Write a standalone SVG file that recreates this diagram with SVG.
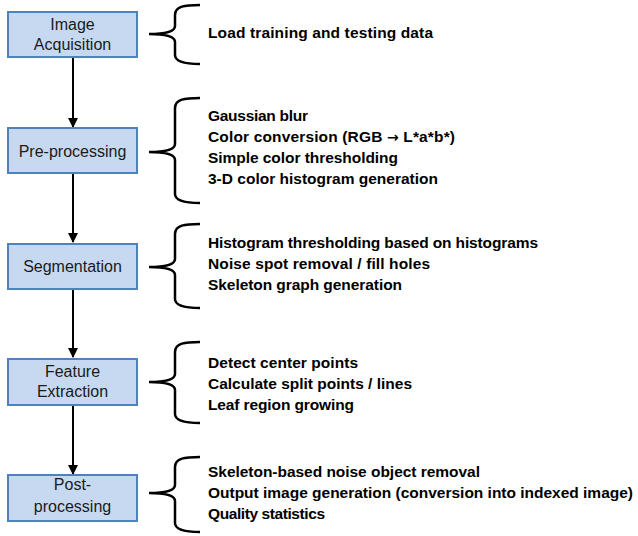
<svg xmlns="http://www.w3.org/2000/svg" width="638" height="536" viewBox="0 0 638 536">
<style>
.box{fill:#c6d9f1;stroke:#4f81bd;stroke-width:2}
.bl{font-family:"Liberation Sans",Arial,sans-serif;font-size:16px;fill:#1a1a1a;text-anchor:middle}
.t{font-family:"Liberation Sans",Arial,sans-serif;font-size:15.5px;font-weight:bold;fill:#000}
.br{fill:none;stroke:#000;stroke-width:2.5}
.ar{stroke:#000;stroke-width:2;fill:none;marker-end:url(#ah)}
</style>
<defs>
<marker id="ah" markerWidth="10" markerHeight="10" refX="9" refY="5" orient="auto" markerUnits="userSpaceOnUse">
<path d="M0,0 L10,5 L0,10 Z" fill="#000"/>
</marker>
</defs>
<rect width="638" height="536" fill="#fff"/>
<g id="connectors">
<line class="ar" x1="73" y1="57" x2="73" y2="127"/>
<line class="ar" x1="73" y1="173" x2="73" y2="242"/>
<line class="ar" x1="73" y1="289" x2="73" y2="357"/>
<line class="ar" x1="73" y1="405" x2="73" y2="474"/>
</g>
<g id="n1">
<rect class="box" x="8" y="12" width="129" height="45"/>
<text class="bl" x="72.5" y="30">Image</text>
<text class="bl" x="72.5" y="50">Acquisition</text>
</g>
<g id="n2">
<rect class="box" x="8" y="128" width="129" height="45"/>
<text class="bl" x="72.5" y="157">Pre-processing</text>
</g>
<g id="n3">
<rect class="box" x="8" y="244" width="129" height="45"/>
<text class="bl" x="72.5" y="272">Segmentation</text>
</g>
<g id="n4">
<rect class="box" x="8" y="359" width="129" height="46"/>
<text class="bl" x="72.5" y="377">Feature</text>
<text class="bl" x="72.5" y="397">Extraction</text>
</g>
<g id="n5">
<rect class="box" x="8" y="475" width="129" height="46"/>
<text class="bl" x="72.5" y="490">Post-</text>
<text class="bl" x="72.5" y="512">processing</text>
</g>
<g id="braces">
<path class="br" d="M200,5 C185,5 175,6 175,15 L175,26 C175,32 165,34 149,34 C165,34 175,36 175,42 L175,55 C175,62 185,64 200,64"/>
<path class="br" d="M200,98 C185,98 175,99 175,108 L175,144 C175,150 165,152 149,152 C165,152 175,154 175,160 L175,194 C175,201 185,203 200,203"/>
<path class="br" d="M200,224 C185,224 175,225 175,234 L175,259 C175,265 165,267 149,267 C165,267 175,269 175,275 L175,299 C175,306 185,308 200,308"/>
<path class="br" d="M200,342 C185,342 175,343 175,352 L175,374 C175,380 165,382 149,382 C165,382 175,384 175,390 L175,414 C175,421 185,423 200,423"/>
<path class="br" d="M200,457 C185,457 175,458 175,467 L175,485 C175,491 165,493 149,493 C165,493 175,495 175,501 L175,523 C175,530 185,532 200,532"/>
</g>
<g id="texts">
<text class="t" x="208" y="38" textLength="225" lengthAdjust="spacing">Load training and testing data</text>
<text class="t" x="208" y="121" textLength="100" lengthAdjust="spacing">Gaussian blur</text>
<text class="t" x="208" y="142" textLength="247" lengthAdjust="spacing">Color conversion (RGB <tspan font-family="DejaVu Sans" font-size="14">→</tspan> L*a*b*)</text>
<text class="t" x="208" y="163" textLength="190" lengthAdjust="spacing">Simple color thresholding</text>
<text class="t" x="208" y="184" textLength="230" lengthAdjust="spacing">3-D color histogram generation</text>
<text class="t" x="208" y="248" textLength="330" lengthAdjust="spacing">Histogram thresholding based on histograms</text>
<text class="t" x="208" y="269" textLength="222" lengthAdjust="spacing">Noise spot removal / fill holes</text>
<text class="t" x="208" y="290" textLength="194" lengthAdjust="spacing">Skeleton graph generation</text>
<text class="t" x="208" y="368" textLength="150" lengthAdjust="spacing">Detect center points</text>
<text class="t" x="208" y="389" textLength="204" lengthAdjust="spacing">Calculate split points / lines</text>
<text class="t" x="208" y="410" textLength="146" lengthAdjust="spacing">Leaf region growing</text>
<text class="t" x="208" y="477" textLength="272" lengthAdjust="spacing">Skeleton-based noise object removal</text>
<text class="t" x="208" y="498" textLength="425" lengthAdjust="spacing">Output image generation (conversion into indexed image)</text>
<text class="t" x="208" y="519" textLength="117" lengthAdjust="spacing">Quality statistics</text>
</g>
</svg>
